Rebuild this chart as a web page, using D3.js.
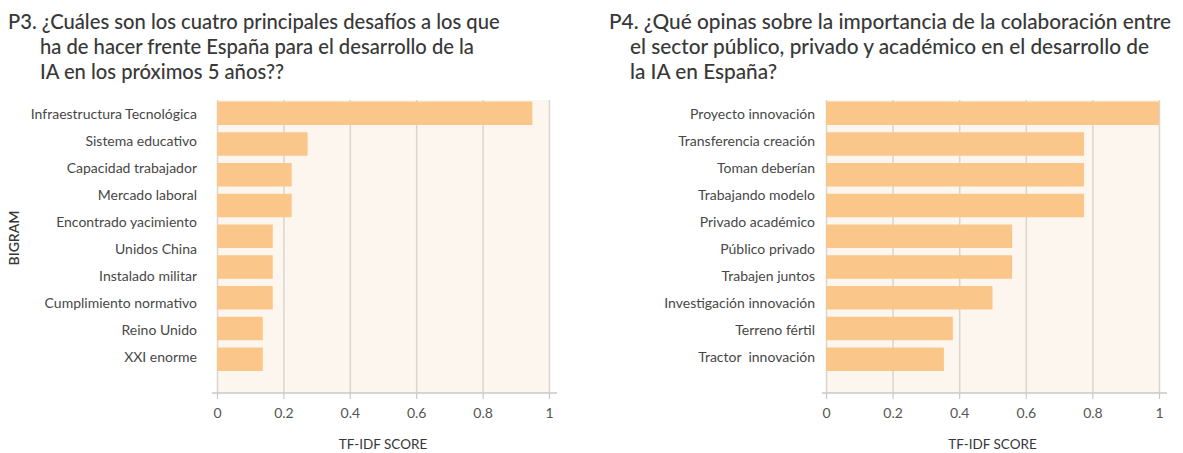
<!DOCTYPE html>
<html>
<head>
<meta charset="utf-8">
<script src="https://cdn.jsdelivr.net/npm/d3@7"></script>
<style>
  body { margin: 0; background: #fff; }
  svg { display: block; font-family: Lato, "Noto Sans", sans-serif; }
</style>
</head>
<body>
<div id="graph"></div>
<script>
// P3 data
const p3Title = [
  "P3. ¿Cuáles son los cuatro principales desafíos a los que",
  "ha de hacer frente España para el desarrollo de la",
  "IA en los próximos 5 años??"
];
const p3Labels = [
  "Infraestructura Tecnológica", "Sistema educativo", "Capacidad trabajador",
  "Mercado laboral", "Encontrado yacimiento", "Unidos China",
  "Instalado militar", "Cumplimiento normativo", "Reino Unido", "XXI enorme"
];
// only 9 bars are drawn in the reference
const p3Scores = [0.95, 0.273, 0.225, 0.225, 0.168, 0.168, 0.168, 0.138, 0.138];

// P4 data
const p4Title = [
  "P4. ¿Qué opinas sobre la importancia de la colaboración entre",
  "el sector público, privado y académico en el desarrollo de",
  "la IA en España?"
];
const p4Labels = [
  "Proyecto innovación", "Transferencia creación", "Toman deberían",
  "Trabajando modelo", "Privado académico", "Público privado",
  "Trabajen juntos", "Investigación innovación", "Terreno fértil", "Tractor  innovación"
];
const p4Scores = [1.0, 0.775, 0.775, 0.775, 0.559, 0.559, 0.50, 0.381, 0.354];

const xTicks = [0, 0.2, 0.4, 0.6, 0.8, 1];
const xTitle = "TF-IDF SCORE";
const yTitle = "BIGRAM";

const barColor = "#fbc68a";
const bgColor = "#fdf6ee";
const gridColor = "#d9d5d0";
const textColor = "#383838";

const svg = d3.select("#graph")
  .append("svg")
  .attr("width", 1183)
  .attr("height", 453);

const drawChart = (o) => {
  const top = 100, axisY = 393;

  const xScale = d3.scaleLinear()
    .domain([0, 1])
    .range([o.x0, o.x1]);

  const labelScale = d3.scaleBand()
    .domain(o.labels)
    .range([101, 371]);

  const barScale = d3.scaleBand()
    .domain(d3.range(o.scores.length))
    .range([101.5, 371])
    .paddingInner(0.236)
    .paddingOuter(0);

  // title
  svg.append("text")
    .attr("fill", textColor)
    .style("font-size", o.titleSize + "px")
    .style("font-weight", 500)
    .selectAll("tspan")
    .data(o.title)
    .enter()
    .append("tspan")
    .attr("x", (d, i) => i == 0 ? o.titleX : o.titleX + o.indent)
    .attr("y", (d, i) => 29 + i * 25)
    .text(d => d);

  // plot background
  svg.append("rect")
    .attr("x", o.x0)
    .attr("y", top)
    .attr("width", o.x1 - o.x0 + 1)
    .attr("height", axisY - top)
    .attr("fill", bgColor);

  // gridlines
  const grid = svg.append("g")
    .attr("transform", "translate(0," + axisY + ")")
    .call(d3.axisBottom(xScale).tickValues(xTicks).tickSize(-(axisY - top)).tickFormat(""));
  grid.select(".domain").remove();
  grid.selectAll("line").attr("stroke", gridColor).attr("stroke-width", 1.5);

  // bars
  svg.selectAll("rect.bar-" + o.id)
    .data(o.scores)
    .enter()
    .append("rect")
    .attr("class", "bar-" + o.id)
    .attr("x", xScale(0))
    .attr("y", (d, i) => barScale(i))
    .attr("width", d => xScale(d) - xScale(0))
    .attr("height", barScale.bandwidth())
    .attr("fill", barColor);

  // x axis
  const xAxis = svg.append("g")
    .attr("transform", "translate(0," + axisY + ")")
    .call(d3.axisBottom(xScale).tickValues(xTicks).tickSize(6).tickPadding(9)
      .tickFormat(d3.format("~g")));
  xAxis.select(".domain").remove();
  xAxis.selectAll("line").attr("stroke", "#c8c8c8").attr("stroke-width", 1.2);
  xAxis.selectAll("text")
    .attr("fill", "#555")
    .style("font-size", "14px")
    .style("font-family", "Lato, sans-serif");

  svg.append("line")
    .attr("x1", o.x0 - o.extL)
    .attr("x2", o.x1 + 8)
    .attr("y1", axisY)
    .attr("y2", axisY)
    .attr("stroke", "#c8c8c8")
    .attr("stroke-width", 1.5);

  svg.append("text")
    .attr("x", (o.x0 + o.x1) / 2)
    .attr("y", 449)
    .attr("text-anchor", "middle")
    .attr("fill", textColor)
    .style("font-size", "13.5px")
    .text(xTitle);

  // category labels
  const yAxis = svg.append("g")
    .attr("transform", "translate(" + o.x0 + ",0)")
    .call(d3.axisLeft(labelScale).tickSize(0).tickPadding(o.labelPad));
  yAxis.select(".domain").remove();
  yAxis.selectAll("text")
    .attr("fill", "#474747")
    .style("font-size", "14px")
    .style("white-space", "pre")
    .style("font-family", "Lato, sans-serif");

  if (o.yTitle) {
    svg.append("text")
      .attr("transform", "translate(19,238) rotate(-90)")
      .attr("text-anchor", "middle")
      .attr("fill", textColor)
      .style("font-size", "14px")
      .style("font-weight", 600)
      .text(o.yTitle);
  }
};

drawChart({
  id: "p3", title: p3Title, labels: p3Labels, scores: p3Scores,
  x0: 217, x1: 549, titleX: 8, indent: 32, titleSize: 20.2,
  labelPad: 20, extL: 5, yTitle: yTitle
});

drawChart({
  id: "p4", title: p4Title, labels: p4Labels, scores: p4Scores,
  x0: 826, x1: 1159, titleX: 609, indent: 21, titleSize: 20.8,
  labelPad: 11, extL: 4, yTitle: null
});
</script>
</body>
</html>
